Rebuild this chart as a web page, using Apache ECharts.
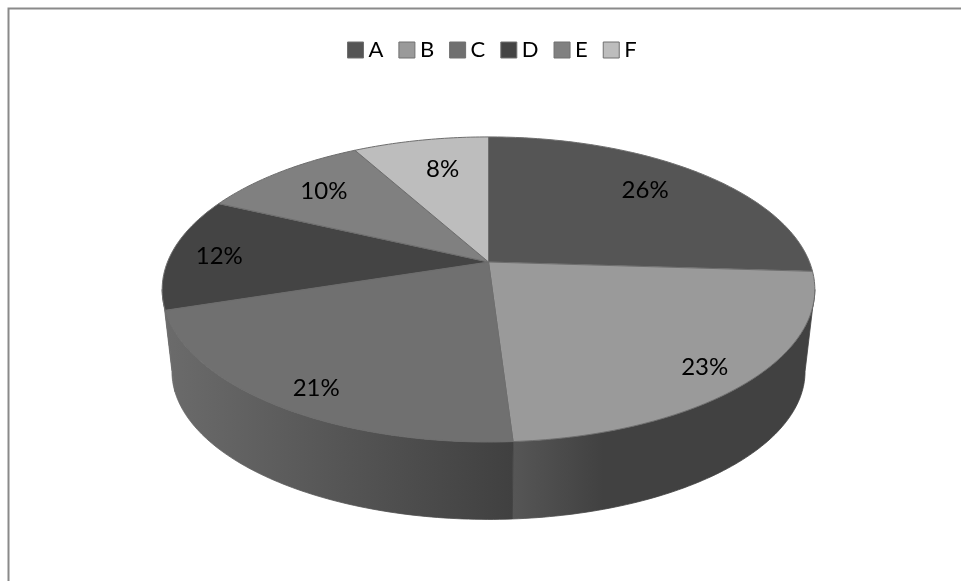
<!DOCTYPE html>
<html><head><meta charset="utf-8">
<style>html,body{margin:0;padding:0;background:#fff}#c{width:961px;height:581px}</style>
<script src="https://cdn.jsdelivr.net/npm/echarts@6/dist/echarts.min.js"></script>
</head><body><div id="c"></div>
<script>
const categories = ['A','B','C','D','E','F'];
const values = [26,23,21,12,10,8];
const labels = ['26%','23%','21%','12%','10%','8%'];

const topColors = ['#555555','#9a9a9a','#707070','#444444','#808080','#bdbdbd'];
const wallStops = [
  ['#555555','#404040'],['#565656','#414141'],['#6b6b6b','#404040'],
  ['#6b6b6b','#6b6b6b'],['#808080','#606060'],['#bdbdbd','#909090']
];
const labelNudge = [[-4,-2],[28,19],[-20,23],[-31,1],[-4,-1],[7,2]];

// Perspective of the disc
const apex = [488.5,262], R = 321, S = 147.6, K = 0.18;
const wallDrop = 82.8, wallScale = 0.97, labelRadius = 0.75;
const total = values.reduce((a,b)=>a+b,0);
const cum = values.reduce((a,v)=>{a.push(a[a.length-1]+v);return a;},[0]);

function project(theta,f,wall){
  const x=f*Math.sin(theta), y=-f*Math.cos(theta), w=1-K*y;
  const s=wall?wallScale:1;
  return [apex[0]+s*R*x/w, apex[1]+(wall?wallDrop:0)+s*S*y/w];
}
function arc(a0,a1,wall){
  const n=Math.max(2,Math.ceil(Math.abs(a1-a0)*60)), pts=[];
  for(let i=0;i<=n;i++) pts.push(project(a0+(a1-a0)*i/n,1,wall));
  return pts;
}
const tanA=Math.acos(-K), visFrom=tanA, visTo=2*Math.PI-tanA;

function renderWall(params,api){
  const i=api.value(0), a0=api.value(1)/total*2*Math.PI, a1=api.value(2)/total*2*Math.PI;
  const from=Math.max(a0,visFrom), to=Math.min(a1,visTo);
  if(to<=from) return {type:'group',children:[]};
  const upper=arc(from,to,false), lower=arc(from,to,true).reverse();
  const c=wallStops[i];
  const grad=new echarts.graphic.LinearGradient(
      0,0,1,0,i===1?[{offset:0,color:c[0]},{offset:0.3,color:c[1]},{offset:1,color:c[1]}]
               :[{offset:0,color:c[0]},{offset:1,color:c[1]}]);
  return {type:'polygon',shape:{points:upper.concat(lower)},
    style:{fill:grad,stroke:grad,lineWidth:0.8}};
}
function renderTop(params,api){
  const i=api.value(0), a0=api.value(1)/total*2*Math.PI, a1=api.value(2)/total*2*Math.PI;
  const mid=(a0+a1)/2, p=project(mid,labelRadius,false);
  return {type:'group',children:[
    {type:'polygon',shape:{points:[apex].concat(arc(a0,a1,false))},
     style:{fill:topColors[i],stroke:'#6e6e6e',lineWidth:1,lineJoin:'round'}},
    {type:'text',z2:10,style:{x:p[0]+labelNudge[i][0],y:p[1]+labelNudge[i][1],text:labels[i],
      fill:'#000',font:'24px Lato',align:'center',verticalAlign:'middle'}}
  ]};
}
const rows=categories.map((c,i)=>[i,cum[i],cum[i+1]]);
const series=[{type:'custom',name:'wall',coordinateSystem:'none',silent:true,z:1,
  renderItem:renderWall,data:rows,encode:{}}]
 .concat(categories.map((c,i)=>({type:'custom',name:c,coordinateSystem:'none',z:2,
   itemStyle:{color:topColors[i]},renderItem:renderTop,data:[rows[i]]})));
const chart=echarts.init(document.getElementById('c'),null,{renderer:'canvas'});
chart.setOption({
  animation:false,backgroundColor:'#fff',
  legend:{left:342,top:34,itemWidth:16,itemHeight:16,itemGap:15,selectedMode:false,
    icon:'rect',
    textStyle:{fontFamily:'Lato',fontSize:22,color:'#000'},
    data:categories.map(n=>({name:n,itemStyle:{borderColor:'#707070',borderWidth:1}}))},
  graphic:[
    {type:'polyline',silent:true,shape:{points:[[8.5,581],[8.5,8.5],[961,8.5]]},
     style:{fill:null,stroke:'#8a8a8a',lineWidth:2}}
  ],
  series
});
</script></body></html>
